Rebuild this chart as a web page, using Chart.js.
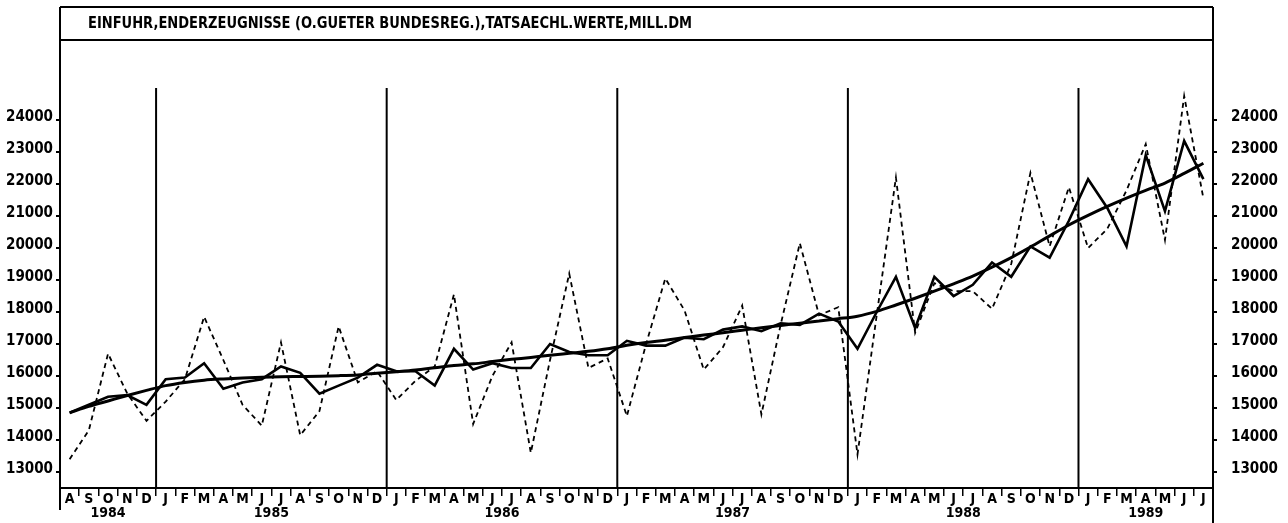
<!DOCTYPE html>
<html>
<head>
<meta charset="utf-8">
<script src="https://cdn.jsdelivr.net/npm/chart.js@4.4.0/dist/chart.umd.min.js"></script>
<style>
  html, body { margin: 0; padding: 0; background: #fff; }
  canvas { display: block; }
</style>
</head>
<body>
<canvas id="chart" width="1288" height="523"></canvas>
<script>
// months Aug 1984 .. Jul 1989
const months = ['A','S','O','N','D',
  'J','F','M','A','M','J','J','A','S','O','N','D',
  'J','F','M','A','M','J','J','A','S','O','N','D',
  'J','F','M','A','M','J','J','A','S','O','N','D',
  'J','F','M','A','M','J','J','A','S','O','N','D',
  'J','F','M','A','M','J','J'];
const years = ['1984', '1985', '1986', '1987', '1988', '1989'];

// actual values (dashed)
const actual = [13400, 14300, 16700, 15450, 14600,
  15200, 15900, 17850, 16500, 15100, 14450, 17050, 14150, 14900, 17550, 15800, 16150,
  15250, 15850, 16300, 18550, 14500, 16000, 17050, 13600, 16500, 19200, 16250, 16550,
  14750, 17000, 19050, 18050, 16200, 16900, 18200, 14800, 17600, 20150, 17900, 18150,
  13550, 17900, 22200, 17350, 18900, 18650, 18650, 18100, 19500, 22350, 20050, 21900,
  20000, 20600, 21800, 23250, 20250, 24750, 21550];

// seasonally adjusted (solid)
const adjusted = [14850, 15100, 15350, 15400, 15100,
  15900, 15950, 16400, 15600, 15800, 15900, 16300, 16100, 15450, 15700, 15950, 16350,
  16150, 16150, 15700, 16850, 16200, 16400, 16250, 16250, 17000, 16750, 16650, 16650,
  17100, 16950, 16950, 17200, 17150, 17450, 17550, 17400, 17650, 17600, 17950, 17700,
  16850, 18000, 19100, 17500, 19100, 18500, 18850, 19550, 19100, 20050, 19700, 20850,
  22150, 21250, 20050, 22900, 21150, 23350, 22150];

// trend (smooth heavy line)
const trend = [14850, 15050, 15220, 15390, 15550,
  15700, 15800, 15870, 15910, 15940, 15960, 15975, 15985, 15995, 16010, 16035, 16085,
  16135, 16190, 16260, 16330, 16380, 16450, 16520, 16580, 16650, 16710, 16770, 16850,
  16960, 17050, 17120, 17200, 17280, 17350, 17430, 17510, 17580, 17650, 17720, 17790,
  17870, 18020, 18220, 18430, 18650, 18880, 19120, 19400, 19700, 20030, 20380, 20720,
  21020, 21300, 21560, 21800, 22030, 22330, 22650];

const yTicks = [13000, 14000, 15000, 16000, 17000, 18000, 19000, 20000, 21000, 22000, 23000, 24000];

const title = 'EINFUHR,ENDERZEUGNISSE (O.GUETER BUNDESREG.),TATSAECHL.WERTE,MILL.DM';
const fontFamily = '"DejaVu Sans Condensed", "Liberation Sans Narrow", sans-serif';

// first month of every year, taken from the month list
const yearStarts = [0];
months.forEach((m, i) => { if (i > 0 && m === 'J' && months[i - 1] === 'D') yearStarts.push(i); });

const framePlugin = {
  id: 'frame',
  beforeDatasetsDraw(chart) {
    const { ctx, chartArea, scales } = chart;
    const x = scales.x, y = scales.y;
    ctx.save();
    ctx.strokeStyle = '#000';
    ctx.lineWidth = 2;
    // year separators
    const top = y.getPixelForValue(25000);
    yearStarts.slice(1).forEach(i => {
      const px = (x.getPixelForValue(i - 1) + x.getPixelForValue(i)) / 2;
      ctx.beginPath();
      ctx.moveTo(px, top);
      ctx.lineTo(px, chartArea.bottom);
      ctx.stroke();
    });
    ctx.restore();
  },
  afterDraw(chart) {
    const { ctx, chartArea, scales } = chart;
    const x = scales.x;
    const L = chartArea.left, R = chartArea.right;
    ctx.save();
    ctx.strokeStyle = '#000';
    ctx.lineWidth = 2;
    ctx.beginPath();
    ctx.moveTo(L, 7); ctx.lineTo(R, 7);
    ctx.moveTo(L, chartArea.top); ctx.lineTo(R, chartArea.top);
    ctx.moveTo(L, chartArea.bottom); ctx.lineTo(R, chartArea.bottom);
    ctx.moveTo(L, 7); ctx.lineTo(L, 510);
    ctx.moveTo(R, 7); ctx.lineTo(R, 523);
    ctx.stroke();

    ctx.fillStyle = '#000';
    ctx.textBaseline = 'middle';
    ctx.textAlign = 'left';
    ctx.font = 'bold 16px ' + fontFamily;
    ctx.fillText(title, L + 28, 24, 604);

    // year labels centred under their months
    ctx.textAlign = 'center';
    ctx.font = 'bold 14px ' + fontFamily;
    years.forEach((yr, k) => {
      const a = yearStarts[k];
      const b = k + 1 < yearStarts.length ? yearStarts[k + 1] - 1 : months.length - 1;
      const px = (x.getPixelForValue(a) + x.getPixelForValue(b)) / 2;
      ctx.fillText(yr, px, 513);
    });
    ctx.restore();
  }
};

const yAxisCommon = {
  min: 12500,
  max: 26500,
  afterBuildTicks: scale => { scale.ticks = yTicks.map(v => ({ value: v })); },
  border: { display: false },
  grid: { drawOnChartArea: false, color: '#000', lineWidth: 2, tickLength: 4 },
  ticks: {
    color: '#000',
    labelOffset: -3,
    font: { family: fontFamily, size: 15, weight: 'bold' },
    callback: v => String(v)
  }
};

new Chart(document.getElementById('chart').getContext('2d'), {
  type: 'line',
  data: {
    labels: months,
    datasets: [
      {
        label: 'Tatsaechl. Werte',
        data: actual,
        borderColor: '#000',
        borderWidth: 1.8,
        borderDash: [5, 4],
        pointRadius: 0,
        tension: 0,
        fill: false
      },
      {
        label: 'Saisonbereinigt',
        data: adjusted,
        borderColor: '#000',
        borderWidth: 2.6,
        pointRadius: 0,
        tension: 0,
        fill: false
      },
      {
        label: 'Trend',
        data: trend,
        borderColor: '#000',
        borderWidth: 3,
        pointRadius: 0,
        cubicInterpolationMode: 'monotone',
        fill: false
      }
    ]
  },
  options: {
    responsive: false,
    animation: false,
    layout: { padding: { top: 40, left: 0, right: 0, bottom: 0 } },
    scales: {
      x: {
        offset: true,
        afterFit: scale => { scale.height = 35; },
        border: { display: false },
        grid: { offset: true, drawOnChartArea: false, color: '#000', lineWidth: 1.5, tickLength: 8 },
        ticks: {
          color: '#000',
          autoSkip: false,
          maxRotation: 0,
          padding: -5,
          font: { family: fontFamily, size: 14, weight: 'bold' }
        }
      },
      y: Object.assign({}, yAxisCommon, {
        position: 'left',
        afterFit: scale => { scale.width = 60; },
        ticks: Object.assign({}, yAxisCommon.ticks, { padding: 3 })
      }),
      y2: Object.assign({}, yAxisCommon, {
        position: 'right',
        afterFit: scale => { scale.width = 75; },
        ticks: Object.assign({}, yAxisCommon.ticks, { padding: 14 })
      })
    },
    plugins: {
      legend: { display: false },
      title: { display: false },
      tooltip: { enabled: false }
    }
  },
  plugins: [framePlugin]
});
</script>
</body>
</html>
